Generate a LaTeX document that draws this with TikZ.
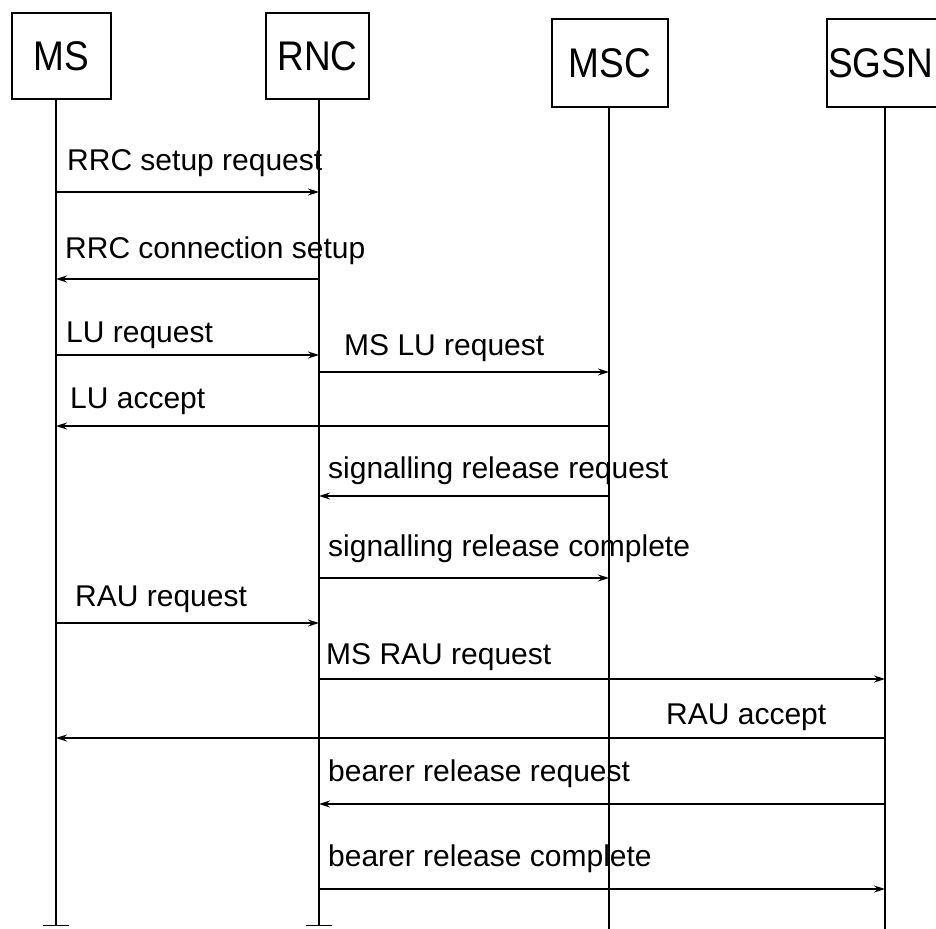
\documentclass[tikz,border=0pt]{standalone}
\usepackage{fontspec}
\setmainfont{Liberation Sans}
\usetikzlibrary{arrows.meta}
\begin{document}
\begin{tikzpicture}[x=1pt,y=-1pt,
  entfont/.style={font=\fontsize{37}{37}\selectfont},
  ent/.style={draw, line width=1.8pt, inner sep=0pt, entfont},
  life/.style={line width=1.4pt},
  lifeend/.style={life, -{Bar[width=26pt]}},
  msg/.style={line width=1.4pt, -{Stealth[length=11pt,width=7pt]}},
  lbl/.style={anchor=base west, inner sep=0pt, font=\fontsize{30}{30}\selectfont}]
\useasboundingbox (0,0) rectangle (936,928);

% entity boxes
\node[ent, minimum width=99pt, minimum height=86pt]  (msbox)   at (61.5,56) {\scalebox{1}[1.12]{MS}};
\node[ent, minimum width=103pt, minimum height=86pt] (rncbox)  at (317.5,56) {\scalebox{1}[1.12]{RNC}};
\node[ent, minimum width=116pt, minimum height=88pt] (mscbox)  at (610,63) {\scalebox{1}[1.12]{MSC}};
\node[ent, minimum width=118pt, minimum height=88pt] (sgsnbox) at (886,63) {};
\node[entfont, inner sep=0pt] (sgsntext) at (880.5,63) {\scalebox{1}[1.12]{SGSN}};

% lifeline positions
\coordinate (ms)   at (56,0);
\coordinate (rnc)  at (319,0);
\coordinate (msc)  at (609,0);
\coordinate (sgsn) at (885,0);

% lifeline ends
\coordinate (msend)   at (56,926);
\coordinate (rncend)  at (319,926);
\coordinate (mscend)  at (609,930);
\coordinate (sgsnend) at (885,930);

% lifelines
\draw[lifeend] (ms |- msbox.south) -- (msend);
\draw[lifeend] (rnc |- rncbox.south) -- (rncend);
\draw[life] (msc |- mscbox.south) -- (mscend);
\draw[life] (sgsn |- sgsnbox.south) -- (sgsnend);

% messages
\draw[msg] (ms |- 0,192) -- (rnc |- 0,192);
\node[lbl] (l1) at (67,171) {RRC setup request};

\draw[msg] (rnc |- 0,279) -- (ms |- 0,279);
\node[lbl] (l2) at (65,258) {RRC connection setup};

\draw[msg] (ms |- 0,355) -- (rnc |- 0,355);
\node[lbl] (l3) at (66,342) {LU request};

\draw[msg] (rnc |- 0,372) -- (msc |- 0,372);
\node[lbl] (l4) at (344,355) {MS LU request};

\draw[msg] (msc |- 0,426) -- (ms |- 0,426);
\node[lbl] (l5) at (70,408) {LU accept};

\draw[msg] (msc |- 0,496) -- (rnc |- 0,496);
\node[lbl] (l6) at (328,478) {signalling release request};

\draw[msg] (rnc |- 0,578) -- (msc |- 0,578);
\node[lbl] (l7) at (328,556) {signalling release complete};

\draw[msg] (ms |- 0,623) -- (rnc |- 0,623);
\node[lbl] (l8) at (75,606) {RAU request};

\draw[msg] (rnc |- 0,679) -- (sgsn |- 0,679);
\node[lbl] (l9) at (326,664) {MS RAU request};

\draw[msg] (sgsn |- 0,738) -- (ms |- 0,738);
\node[lbl] (l10) at (666,724) {RAU accept};

\draw[msg] (sgsn |- 0,804) -- (rnc |- 0,804);
\node[lbl] (l11) at (328,781) {bearer release request};

\draw[msg] (rnc |- 0,889) -- (sgsn |- 0,889);
\node[lbl] (l12) at (328,866) {bearer release complete};
\end{tikzpicture}
\end{document}
